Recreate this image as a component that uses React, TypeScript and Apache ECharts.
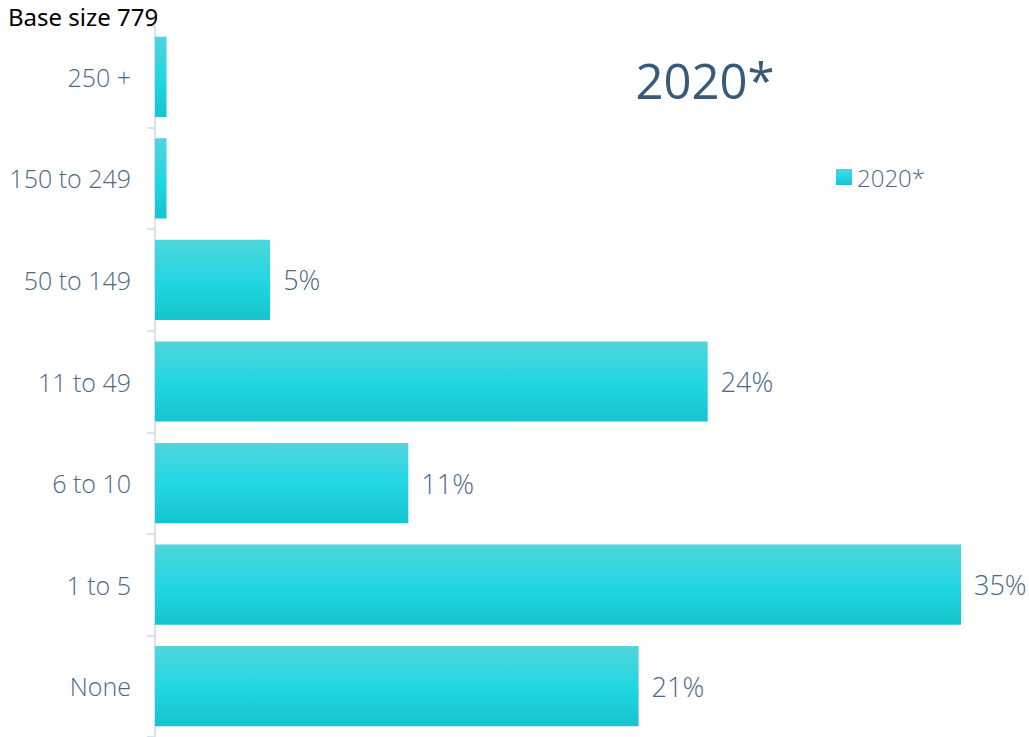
import React, { useEffect, useRef } from "react";
import * as echarts from "echarts";

const categories = ["None", "1 to 5", "6 to 10", "11 to 49", "50 to 149", "150 to 249", "250 +"];
const values = [21, 35, 11, 24, 5, 0.5, 0.5];
const seriesName = "2020*";
const titleText = "2020*";
const baseText = "Base size 779";

export default function App() {
  const ref = useRef<HTMLDivElement>(null);
  useEffect(() => {
    if (!ref.current) return;
    const chart = echarts.init(ref.current, null, { renderer: "svg" });
    const labelColor = "#4b6a86";
    const font = "'Open Sans', 'Noto Sans', sans-serif";
    chart.setOption({
      animation: false,
      grid: { left: 155, right: 68, top: 26, bottom: -3, containLabel: false },
      xAxis: {
        type: "value",
        min: 0,
        max: 35,
        show: false,
      },
      yAxis: {
        type: "category",
        data: categories,
        axisLine: { show: true, lineStyle: { color: "#d8e3ee", width: 2 } },
        axisTick: { show: true, length: 8, lineStyle: { color: "#d8e3ee", width: 2 } },
        axisLabel: {
          color: labelColor,
          fontSize: 25,
          fontWeight: 300,
          fontFamily: font,
          margin: 24,
        },
        splitLine: { show: false },
      },
      legend: {
        show: true,
        left: 831,
        top: 160,
        icon: "rect",
        itemWidth: 16,
        itemHeight: 16,
        itemGap: 8,
        textStyle: { color: labelColor, fontSize: 24, fontWeight: 300, fontFamily: font, padding: [0, 0, 0, 0] },
        data: [seriesName],
      },
      graphic: [
        {
          type: "text",
          left: 8,
          top: 4,
          z: 100,
          zlevel: 0,
          style: {
            text: baseText,
            fill: "#000000",
            fontSize: 24,
            fontFamily: "'Noto Sans', 'Open Sans', sans-serif",
          },
        },
        {
          type: "text",
          x: 705,
          y: 80,
          style: {
            text: titleText,
            fill: "#365a78",
            fontSize: 49,
            fontFamily: font,
            align: "center",
            verticalAlign: "middle",
          },
        },
      ],
      series: [
        {
          type: "bar",
          name: seriesName,
          data: values,
          barCategoryGap: "21%",
          itemStyle: {
            color: new echarts.graphic.LinearGradient(0, 0, 0, 1, [
              { offset: 0, color: "#50d5dc" },
              { offset: 0.5, color: "#22d7e2" },
              { offset: 1, color: "#14c4ce" },
            ]),
          },
          label: {
            show: true,
            position: "right",
            distance: 13,
            color: labelColor,
            fontSize: 27,
            fontWeight: 300,
            fontFamily: font,
            formatter: (p: any) => (p.value >= 1 ? `${p.value}%` : ""),
          },
        },
      ],
    });
    return () => chart.dispose();
  }, []);
  return <div ref={ref} style={{ width: 1029, height: 737, position: "absolute", left: 0, top: 0 }} />;
}
